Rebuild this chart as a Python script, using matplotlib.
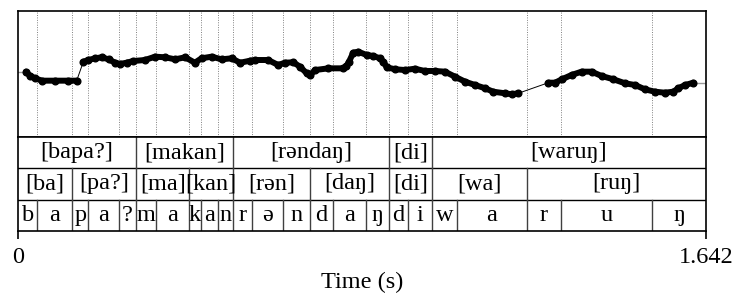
import matplotlib.pyplot as plt

plt.rcParams['font.family'] = ['Liberation Serif', 'DejaVu Serif']

t_end = 1.642

# phone tier: labels and interval end times (s)
phones = ['b', 'a', 'p', 'a', '?', 'm', 'a', 'k', 'a', 'n', 'r', 'ə', 'n',
          'd', 'a', 'ŋ', 'd', 'i', 'w', 'a', 'r', 'u', 'ŋ']
phone_ends = [0.046, 0.130, 0.168, 0.241, 0.282, 0.329, 0.409, 0.436, 0.477,
              0.512, 0.559, 0.633, 0.697, 0.751, 0.831, 0.886, 0.930, 0.987,
              1.048, 1.214, 1.295, 1.514, 1.642]

# syllable tier
syllables = ['[ba]', '[pa?]', '[ma]', '[kan]', '[rən]', '[daŋ]', '[di]', '[wa]', '[ruŋ]']
syllable_ends = [0.130, 0.282, 0.409, 0.512, 0.697, 0.886, 0.987, 1.214, 1.642]

# word tier
words = ['[bapa?]', '[makan]', '[rəndaŋ]', '[di]', '[waruŋ]']
word_ends = [0.282, 0.512, 0.886, 0.987, 1.642]

# pitch contour, three voiced stretches (time in s, F0 in Hz)
seg1_t = [0.019, 0.029, 0.041, 0.057, 0.088, 0.120, 0.140]
seg1_f0 = [203.7, 196.8, 193.2, 189.4, 189.4, 189.4, 189.4]

seg2_t = [0.156, 0.168, 0.184, 0.200, 0.216, 0.232, 0.243, 0.259, 0.275, 0.303,
          0.327, 0.351, 0.375, 0.399, 0.422, 0.438, 0.462, 0.486, 0.510, 0.530,
          0.554, 0.566, 0.597, 0.621, 0.637, 0.657, 0.673, 0.689, 0.697, 0.709,
          0.741, 0.776, 0.784, 0.790, 0.800, 0.812, 0.832, 0.848, 0.864, 0.872,
          0.880, 0.900, 0.924, 0.947, 0.971, 0.995, 1.019, 1.043, 1.067, 1.091,
          1.115, 1.134, 1.162, 1.178, 1.194]
seg2_f0 = [219.5, 222.2, 224.9, 226.5, 223.3, 217.9, 215.9, 217.9, 220.6, 222.2,
           227.5, 226.5, 223.3, 226.5, 217.9, 224.9, 227.5, 223.3, 224.9, 217.9,
           221.1, 222.2, 222.2, 214.3, 217.9, 218.6, 211.6, 201.1, 198.4, 206.3,
           209.0, 209.0, 212.7, 219.5, 233.8, 235.4, 230.2, 228.6, 224.9, 219.5,
           210.6, 207.5, 206.3, 208.4, 204.8, 204.8, 203.7, 195.7, 187.8, 182.5,
           177.3, 171.9, 169.4, 167.8, 169.4]

seg3_t = [1.266, 1.282, 1.298, 1.321, 1.345, 1.369, 1.393, 1.421, 1.449, 1.473,
          1.496, 1.520, 1.544, 1.564, 1.576, 1.592, 1.612]
seg3_f0 = [186.2, 186.2, 191.6, 198.4, 203.7, 203.7, 196.8, 191.6, 185.2, 182.5,
           175.7, 171.9, 170.3, 171.9, 177.3, 182.5, 186.2]

W, H = 734, 296
fig = plt.figure(figsize=(W / 100, H / 100), dpi=100)

# pitch panel
ax = fig.add_axes([18 / W, 1 - 137 / H, 688 / W, 126 / H])
ax.set_xlim(0, t_end)
ax.set_ylim(100, 300)

# boundary lines (all phone boundaries)
for b in phone_ends[:-1]:
    ax.axvline(b, color='0.5', lw=0.7, linestyle=(0, (1, 1.5)))

# flat grey extensions to the edges
ax.plot([0, seg1_t[0]], [seg1_f0[0], seg1_f0[0]], color='0.6', lw=1)
ax.plot([seg3_t[-1], t_end], [seg3_f0[-1], seg3_f0[-1]], color='0.6', lw=1)

# thin lines across the unvoiced gaps
ax.plot([seg1_t[-1], seg2_t[0]], [seg1_f0[-1], seg2_f0[0]], color='black', lw=0.7)
ax.plot([seg2_t[-1], seg3_t[0]], [seg2_f0[-1], seg3_f0[0]], color='black', lw=0.7)

for tt, ff in [(seg1_t, seg1_f0), (seg2_t, seg2_f0), (seg3_t, seg3_f0)]:
    ax.plot(tt, ff, color='black', lw=4.3, marker='o', ms=4.8,
            solid_capstyle='round', solid_joinstyle='round')

ax.set_xticks([])
ax.set_yticks([])
for s in ax.spines.values():
    s.set_linewidth(1.2)

# text grid tiers
tx = fig.add_axes([18 / W, 1 - 231 / H, 688 / W, 94 / H])
tx.set_xlim(0, t_end)
tx.set_ylim(0, 3)
tx.axhline(1, color='black', lw=1)
tx.axhline(2, color='black', lw=1)

fs = 17.5
tiers = [(words, word_ends, 2), (syllables, syllable_ends, 1), (phones, phone_ends, 0)]
for labels, ends, row in tiers:
    start = 0
    for lab, end in zip(labels, ends):
        if end < t_end:
            tx.plot([end, end], [row, row + 1], color='0.25', lw=1)
        tx.text((start + end) / 2, row + 0.5, lab, ha='center', va='center', fontsize=fs)
        start = end

tx.set_yticks([])
tx.set_xticks([0, t_end])
tx.set_xticklabels(['0', '1.642'], fontsize=fs)
tx.tick_params(axis='x', direction='out', length=5.5, width=1.2, pad=6)
tx.set_xlabel('Time (s)', fontsize=fs, labelpad=3)
for s in tx.spines.values():
    s.set_linewidth(1.2)

fig.savefig('out.png', dpi=100)
